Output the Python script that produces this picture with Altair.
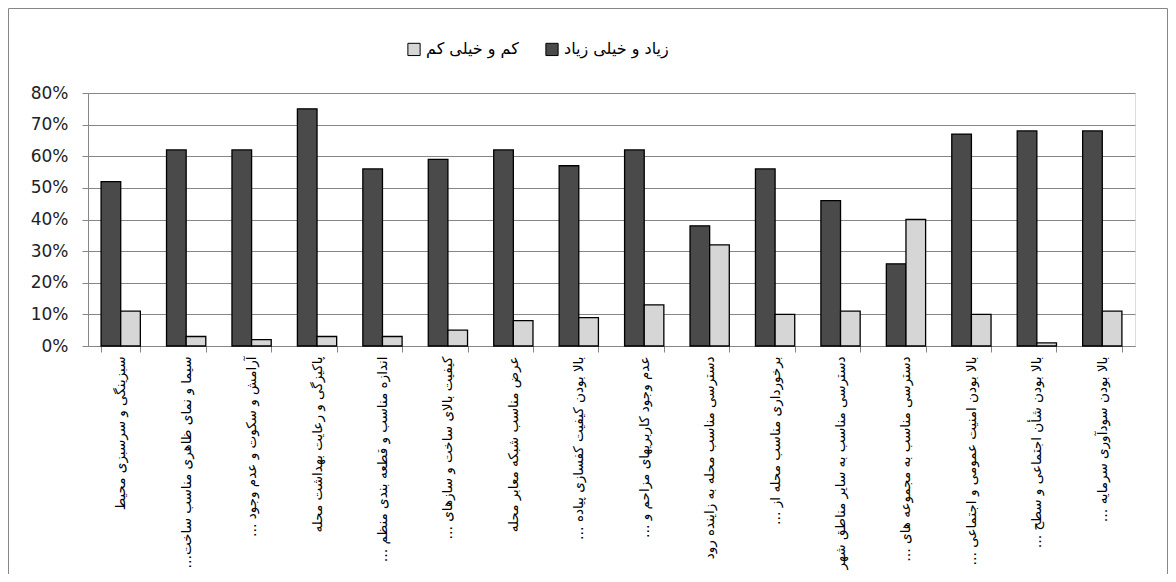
import altair as alt
import pandas as pd

RLM = "\u200F"
categories = [
    "سبزینگی و سرسبزی محیط",
    "سیما و نمای ظاهری مناسب ساخت…" + RLM,
    "آرامش و سکوت و عدم وجود …" + RLM,
    "پاکیزگی و رعایت بهداشت محله",
    "اندازه مناسب و قطعه بندی منظم …" + RLM,
    "کیفیت بالای ساخت و سازهای …" + RLM,
    "عرض مناسب شبکه معابر محله",
    "بالا بودن کیفیت  کفسازی پیاده …" + RLM,
    "عدم وجود کاربریهای مزاحم و …" + RLM,
    "دسترسی مناسب محله به زاینده رود",
    "برخورداری مناسب محله از …" + RLM,
    "دسترسی مناسب به سایر مناطق شهر",
    "دسترسی مناسب به مجموعه های …" + RLM,
    "بالا بودن امنیت عمومی و اجتماعی …" + RLM,
    "بالا بودن شأن اجتماعی و سطح …" + RLM,
    "بالا بودن سودآوری سرمایه …" + RLM,
]
high_values = [52, 62, 62, 75, 56, 59, 62, 57, 62, 38, 56, 46, 26, 67, 68, 68]
low_values = [11, 3, 2, 3, 3, 5, 8, 9, 13, 32, 10, 11, 40, 10, 1, 11]

series_high = "زیاد و خیلی زیاد"
series_low = "کم و خیلی کم"

rows = []
for c, h, l in zip(categories, high_values, low_values):
    rows.append({"cat": c, "series": series_high, "value": h / 100})
    rows.append({"cat": c, "series": series_low, "value": l / 100})
df = pd.DataFrame(rows)

bars = alt.Chart(df).mark_bar(stroke="black", strokeWidth=1.3).encode(
    x=alt.X(
        "cat:N",
        sort=categories,
        scale=alt.Scale(paddingInner=0.4, paddingOuter=0.2),
        axis=alt.Axis(
            title=None,
            labelAngle=270,
            labelLimit=0,
            labelFont="DejaVu Sans",
            labelFontSize=13.5,
            labelColor="black",
            labelPadding=4,
            tickBand="extent",
            tickSize=6,
            tickColor="#868686",
            domainColor="#868686",
            grid=False,
        ),
    ),
    xOffset=alt.XOffset("series:N", sort=[series_high, series_low],
                        scale=alt.Scale(paddingInner=0, paddingOuter=0)),
    y=alt.Y(
        "value:Q",
        scale=alt.Scale(domain=[0, 0.8], nice=False),
        axis=alt.Axis(
            title=None,
            format="%",
            values=[0, 0.1, 0.2, 0.3, 0.4, 0.5, 0.6, 0.7, 0.8],
            labelFont="DejaVu Sans",
            labelFontSize=17,
            labelColor="#222222",
            labelPadding=14,
            tickSize=6,
            tickColor="#868686",
            domainColor="#868686",
            gridColor="#868686",
            gridWidth=1,
        ),
    ),
    color=alt.Color(
        "series:N",
        scale=alt.Scale(domain=[series_low, series_high], range=["#d6d6d6", "#4a4a4a"]),
        legend=alt.Legend(
            title=None,
            orient="none",
            legendX=318,
            legendY=-52,
            direction="horizontal",
            symbolType="square",
            symbolSize=150,
            symbolStrokeColor="black",
            symbolStrokeWidth=1,
            labelFont="DejaVu Sans",
            labelFontSize=16,
            labelColor="black",
            columnPadding=24,
        ),
    ),
)

border = alt.Chart(pd.DataFrame({"k": [0]})).mark_rect(
    filled=False, stroke="#868686", strokeWidth=1
).encode(
    x=alt.value(-79.5), x2=alt.value(1079.5), y=alt.value(-84.5), y2=alt.value(600)
)

chart = alt.layer(border, bars).properties(
    width=1047,
    height=253,
    autosize="none",
    padding={"left": 80, "top": 85, "right": 33, "bottom": 228},
).configure_view(stroke=None).configure(background="white")

chart.save("out.html", embed_options={"renderer": "svg", "actions": False})
